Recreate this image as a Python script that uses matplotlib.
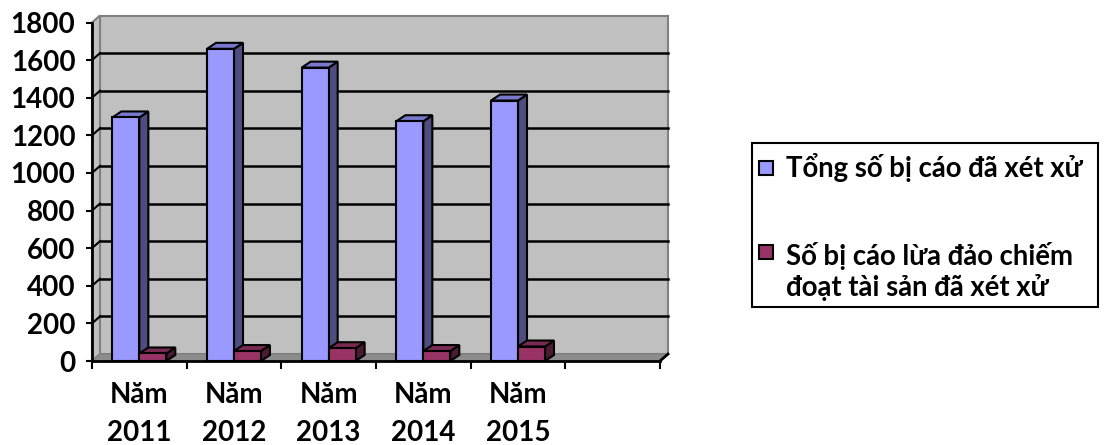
import matplotlib
matplotlib.use("Agg")
import matplotlib.pyplot as plt
from matplotlib.patches import Polygon, Rectangle
import numpy as np

plt.rcParams["font.family"] = ["Lato", "Open Sans", "DejaVu Sans"]
plt.rcParams["font.weight"] = "bold"

categories = ["Năm\n2011", "Năm\n2012", "Năm\n2013", "Năm\n2014", "Năm\n2015"]
tong_so = [1295, 1660, 1560, 1275, 1385]
lua_dao = [40, 53, 68, 53, 77]
series_names = ["Tổng số bị cáo đã xét xử",
                "Số bị cáo lừa đảo chiếm\nđoạt tài sản đã xét xử"]
y_ticks = list(range(0, 2000, 200))

FRONT = ["#9999FF", "#993366"]
SIDE = ["#4D4D80", "#4D1A33"]
TOP = ["#7878CC", "#7A2952"]

W, H = 1109, 445
fig = plt.figure(figsize=(W / 100, H / 100), dpi=100)

# pixel frame of the front plane
x0, x1, y0, y1 = 92, 660, 361, 22.5
n_slots = len(categories) + 1
ymax = y_ticks[-1]
ax = fig.add_axes([x0 / W, 1 - y0 / H, (x1 - x0) / W, (y0 - y1) / H])
ax.set_xlim(0, n_slots)
ax.set_ylim(0, ymax)
ax.patch.set_visible(False)

px_x = (x1 - x0) / n_slots
px_y = (y0 - y1) / ymax
wdx, wdy = 8 / px_x, 7 / px_y   # wall depth
bdx, bdy = 9 / px_x, 6 / px_y   # bar depth

# walls and floor
ax.add_patch(Rectangle((wdx, wdy), n_slots, ymax, fc="#C0C0C0", ec="#808080",
                       lw=1.5, clip_on=False, zorder=0.5))
ax.add_patch(Polygon([(0, 0), (wdx, wdy), (wdx, ymax + wdy), (0, ymax)],
                     fc="#C0C0C0", ec="#808080", lw=1.5, clip_on=False, zorder=0.5))
ax.add_patch(Polygon([(0, 0), (n_slots, 0), (n_slots + wdx, wdy), (wdx, wdy)],
                     fc="#8C8C8C", ec="#808080", lw=1.0, clip_on=False, zorder=0.7))
for v in y_ticks[1:-1]:
    ax.plot([wdx, n_slots + wdx], [v + wdy, v + wdy], color="black", lw=1.8,
            clip_on=False, zorder=0.6)
    ax.plot([0, wdx], [v, v + wdy], color="black", lw=1.5, clip_on=False, zorder=0.6)
ax.plot([n_slots, n_slots + wdx], [0, wdy], color="black", lw=2, clip_on=False, zorder=0.8)


def bar3d(x, w, v, k, z):
    ax.add_patch(Polygon([(x + w, 0), (x + w + bdx, bdy), (x + w + bdx, v + bdy), (x + w, v)],
                         fc=SIDE[k], ec="black", lw=1.5, clip_on=False, zorder=z))
    ax.add_patch(Polygon([(x, v), (x + bdx, v + bdy), (x + w + bdx, v + bdy), (x + w, v)],
                         fc=TOP[k], ec="black", lw=1.5, clip_on=False, zorder=z))
    ax.add_patch(Rectangle((x, 0), w, v, fc=FRONT[k], ec="black", lw=1.5,
                           clip_on=False, zorder=z + 0.1))


bw = 0.285
for i, (a, b) in enumerate(zip(tong_so, lua_dao)):
    bar3d(i + 0.215, bw, a, 0, 2 + i)
    bar3d(i + 0.5, bw, b, 1, 2.5 + i)

for s in ["top", "right"]:
    ax.spines[s].set_visible(False)
for s in ["left", "bottom"]:
    ax.spines[s].set_linewidth(2)
    ax.spines[s].set_zorder(1)

ax.set_yticks(y_ticks)
ax.tick_params(axis="y", length=4, width=1.5, pad=8, labelsize=20)
ax.set_xticks(range(n_slots + 1))
ax.set_xticklabels([])
ax.tick_params(axis="x", which="major", length=6, width=1.5)
ax.set_xticks(np.arange(len(categories)) + 0.5, minor=True)
ax.set_xticklabels(categories, minor=True, fontsize=20, linespacing=1.6)
ax.tick_params(axis="x", which="minor", length=0, pad=15)

# legend box
fig.add_artist(Rectangle((752 / W, 1 - 307 / H), 346 / W, 164 / H, fill=False,
                         ec="black", lw=1.5, transform=fig.transFigure))
entries = [(168, [176.5]), (252, [265, 296])]
for k, (name, (my, baselines)) in enumerate(zip(series_names, entries)):
    fig.add_artist(Rectangle((759 / W, 1 - (my + 7) / H), 14 / W, 14 / H,
                             fc=FRONT[k], ec="black", lw=1.5, transform=fig.transFigure))
    for line, by in zip(name.split("\n"), baselines):
        fig.text(786 / W, 1 - by / H, line, fontsize=19.8, va="baseline", ha="left")

fig.savefig("out.png", dpi=100)
